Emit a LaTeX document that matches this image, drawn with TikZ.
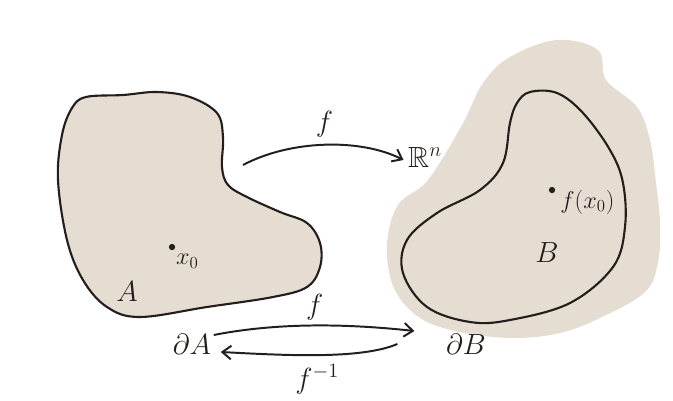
\documentclass[tikz,border=0pt]{standalone}
\usepackage{amsmath}
\usepackage{amssymb}
\usepackage{tikz}
\usetikzlibrary{arrows.meta, positioning, calc}
\usepackage{xcolor}
\definecolor{sand}{RGB}{229,220,210}
\definecolor{ink}{RGB}{35,30,27}

\begin{document}
\begin{tikzpicture}[
  x=0.025cm, y=-0.025cm,
  font=\huge,
  >={Straight Barb[length=2.2mm, width=3.4mm]},
  region/.style={draw=ink, line width=1.5pt, fill=sand},
  halo/.style={fill=sand},
  mapsto/.style={->, draw=ink, line width=1.4pt},
  point/.style={circle, fill=ink, inner sep=0pt, minimum size=4.5pt},
  tag/.style={text=ink, inner sep=1pt},
  small tag/.style={tag, font=\LARGE}
]
\useasboundingbox (0,0) rectangle (673,401);

% Region A
\draw[region] plot[smooth cycle, tension=0.6] coordinates {
  (86,97) (123,95) (157,92) (190,97) (217,113) (223,137) (222,167)
  (228,185) (247,197) (280,212) (307,223) (320,243) (320,267) (307,287)
  (273,297) (207,307) (140,317) (107,307) (83,280) (67,240) (58,180)
  (62,135) (72,108)};

% Region B with its shaded surrounding
\fill[halo] plot[smooth cycle, tension=0.6] coordinates {
  (510,57) (557,40) (598,50) (606,80) (637,107) (650,140) (656,183)
  (660,223) (658,262) (645,292) (600,318) (560,333) (513,338) (460,332)
  (420,318) (394,288) (387,245) (398,205) (428,180) (462,125) (483,83)};
\draw[region] plot[smooth cycle, tension=0.6] coordinates {
  (530,92) (557,93) (583,113) (610,150) (623,183) (625,227) (613,267)
  (570,303) (510,320) (470,322) (427,307) (403,273) (407,240) (437,213)
  (480,190) (503,163) (510,123) (517,103)};

% Points and labels
\node[point] (x0) at (172,247) {};
\node[small tag, below right=2pt and 0pt of x0] (x0lbl) {$x_0$};
\node[tag] (Alabel) at (127,292) {$A$};
\node[point] (fx0) at (552,190) {};
\node[small tag, below right=-3pt and 3pt of fx0] (fx0lbl) {$f(x_0)$};
\node[tag] (Blabel) at (547,253) {$B$};

\node[tag] (Rn) at (425,157) {$\mathbb{R}^n$};
\node[tag] (dA) at (192,344) {$\partial A$};
\node[tag] (dB) at (466,344) {$\partial B$};

% Maps
\coordinate (fstart) at (243,165);
\draw[mapsto] (fstart) .. controls (290,140) and (360,138) .. ($(Rn.west)+(-3,3)$)
  node[tag, pos=0.5, above=4pt] (ftop) {$f$};
\draw[mapsto] ($(dA.east)+(1,-9)$) .. controls (280,322) and (350,324) .. ($(dB.west)+(-30,-13)$)
  node[tag, pos=0.5, above=2pt] (fbot) {$f$};
\draw[mapsto] ($(dB.west)+(-47,0)$) .. controls (360,360) and (280,355) .. ($(dA.east)+(8,8)$)
  node[tag, pos=0.5, below=5pt] (finv) {$f^{-1}$};

\end{tikzpicture}
\end{document}
